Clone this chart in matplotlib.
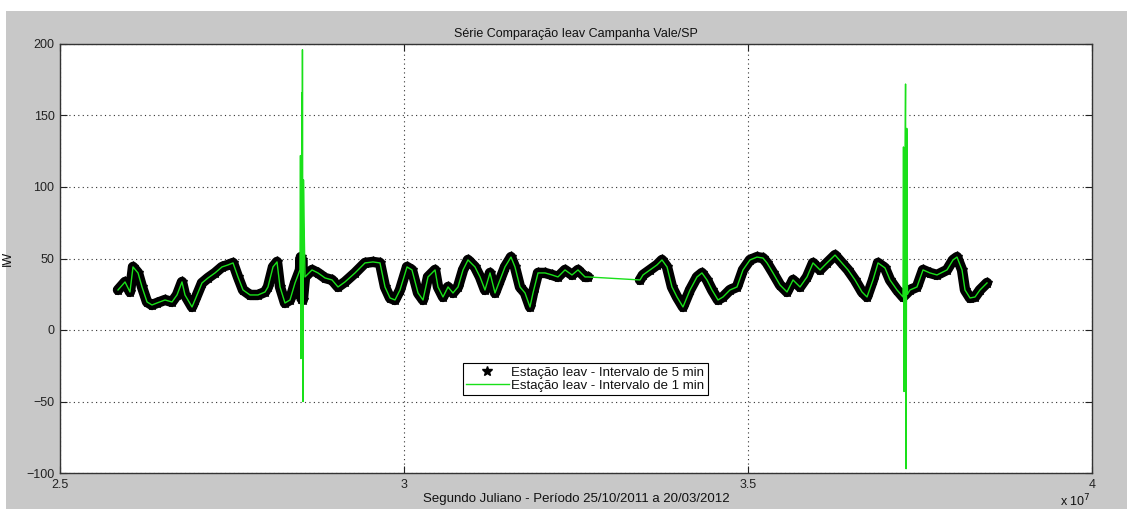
import numpy as np
import matplotlib
matplotlib.use("Agg")
import matplotlib.pyplot as plt
from matplotlib.patches import Rectangle
from matplotlib.lines import Line2D

plt.rcParams['font.family'] = ['Liberation Sans', 'DejaVu Sans']

# Julian seconds (in units of 1e7 s) and IW values, 5-minute sampling
t5 = [2.5843, 2.5945, 2.6017, 2.6061, 2.6134, 2.6192, 2.6265, 2.6337, 2.6410, 2.6526,
      2.6628, 2.6701, 2.6773, 2.6817, 2.6919, 2.6962, 2.7064, 2.7151, 2.7253, 2.7355,
      2.7442, 2.7515, 2.7587, 2.7660, 2.7762, 2.7878, 2.7980, 2.8023, 2.8096, 2.8154,
      2.8198, 2.8270, 2.8343, 2.8416, 2.8488, 2.8500, 2.8510, 2.8520, 2.8530, 2.8561,
      2.8663, 2.8750, 2.8852, 2.8954, 2.9041, 2.9142, 2.9288, 2.9433, 2.9549, 2.9651,
      2.9724, 2.9797, 2.9869, 2.9942, 3.0044, 3.0116, 3.0204, 3.0276, 3.0349, 3.0451,
      3.0494, 3.0567, 3.0640, 3.0712, 3.0785, 3.0858, 3.0930, 3.1032, 3.1105, 3.1177,
      3.1250, 3.1323, 3.1395, 3.1468, 3.1555, 3.1613, 3.1686, 3.1759, 3.1831, 3.1875,
      3.1948, 3.2050, 3.2151, 3.2238, 3.2340, 3.2442, 3.2529, 3.2631, 3.2675,
      3.3430, 3.3474, 3.3576, 3.3677, 3.3750, 3.3823, 3.3895, 3.3968, 3.4055, 3.4157,
      3.4259, 3.4331, 3.4404, 3.4477, 3.4564, 3.4637, 3.4738, 3.4840, 3.4927, 3.5029,
      3.5131, 3.5218, 3.5276, 3.5364, 3.5465, 3.5567, 3.5654, 3.5756, 3.5858, 3.5945,
      3.6047, 3.6148, 3.6265, 3.6366, 3.6454, 3.6555, 3.6657, 3.6730, 3.6817, 3.6890,
      3.6991, 3.7064, 3.7166, 3.7253, 3.7355, 3.7456, 3.7544, 3.7645, 3.7747, 3.7892,
      3.7980, 3.8038, 3.8111, 3.8154, 3.8227, 3.8300, 3.8372, 3.8474]
iw5 = [28.0, 33.6, 26.6, 44.1, 39.9, 30.1, 19.6, 17.5, 18.9, 21.0,
       19.6, 24.5, 33.6, 24.5, 16.1, 21.0, 32.9, 36.4, 39.9, 44.1,
       45.5, 46.9, 37.1, 28.0, 24.5, 24.5, 26.6, 30.1, 44.1, 47.6,
       30.1, 18.9, 21.0, 32.9, 42.0, 51.0, 22.0, 49.0, 21.0, 37.1,
       42.0, 39.9, 36.4, 35.0, 30.1, 33.6, 39.9, 46.9, 47.6, 46.9,
       30.1, 22.4, 21.0, 28.0, 44.1, 42.0, 25.9, 21.0, 37.1, 42.0,
       30.1, 23.1, 30.1, 25.9, 30.1, 42.0, 49.0, 44.1, 37.1, 28.0,
       39.9, 25.9, 35.0, 44.1, 51.0, 44.1, 30.1, 25.9, 16.1, 25.9,
       39.9, 39.9, 38.5, 37.1, 42.0, 38.5, 42.0, 37.1, 37.1,
       35.0, 38.5, 42.0, 45.5, 49.0, 44.1, 30.1, 23.1, 16.1, 28.0,
       37.1, 39.9, 35.0, 28.0, 21.0, 23.1, 28.0, 30.1, 42.0, 49.0,
       51.0, 50.3, 46.9, 39.9, 31.5, 26.6, 35.0, 30.1, 37.1, 46.9,
       42.0, 46.9, 52.4, 46.9, 42.0, 35.0, 26.6, 23.1, 35.0, 46.9,
       43.4, 35.0, 28.0, 23.1, 28.0, 30.1, 42.0, 39.9, 38.5, 42.0,
       49.0, 51.0, 42.0, 28.0, 22.4, 23.1, 28.0, 32.9]

# 1-minute spikes around the two disturbances
t_spk = [2.8495, 2.8502, 2.8517, 2.8524, 2.8532, 2.8539, 2.8546,
         3.7260, 3.7268, 3.7278, 3.7290, 3.7298, 3.7308, 3.7318]
iw_spk = [122.0, -20.0, 166.0, 196.0, -50.0, 105.0, 80.0,
          128.0, -43.0, 87.0, 172.0, -97.0, 141.0, 25.0]

title = 'Série Comparação Ieav Campanha Vale/SP'
xlabel = 'Segundo Juliano - Período 25/10/2011 a 20/03/2012'
ylabel = 'IW'
label5 = 'Estação Ieav - Intervalo de 5 min'
label1 = 'Estação Ieav - Intervalo de 1 min'
xticks = [2.5, 3.0, 3.5, 4.0]
xtick_labels = ['2.5', '3', '3.5', '4']
yticks = [-100, -50, 0, 50, 100, 150, 200]

t5 = np.array(t5) * 1e7
iw5 = np.array(iw5)
# the 1-minute record: 5-minute samples merged with the spike samples
t1 = np.concatenate([t5, np.array(t_spk) * 1e7])
iw1 = np.concatenate([iw5, iw_spk])
order = np.argsort(t1)
t1, iw1 = t1[order], iw1[order]

# break the 5-minute band where data are missing
gap = np.where(np.diff(t5) > 0.03e7)[0]
t5_band = np.insert(t5, gap + 1, np.nan)
iw5_band = np.insert(iw5, gap + 1, np.nan)

GREEN = '#19e019'
TXT = '#111111'
W, H = 1127, 509
fig = plt.figure(figsize=(W / 100, H / 100), dpi=100, facecolor='white')
fig.patches.append(Rectangle((6 / W, 0), 1, (H - 11) / H, transform=fig.transFigure,
                             facecolor='#c8c8c8', edgecolor='none', zorder=-10))

ax = fig.add_axes([60 / W, (H - 473) / H, 1032 / W, 429 / H])
ax.set_facecolor('white')

ax.plot(t5_band, iw5_band, color='black', lw=7.5, solid_capstyle='round', zorder=2)
ax.plot(t5, iw5, linestyle='none', marker='*', ms=8, color='black', zorder=3)
ax.plot(t1, iw1, color=GREEN, lw=1.0, zorder=4)

ax.set_xlim(2.5e7, 4.0e7)
ax.set_ylim(-100, 200)
ax.set_xticks([v * 1e7 for v in xticks])
ax.set_xticklabels(xtick_labels)
ax.set_yticks(yticks)

ax.grid(True, linestyle=(0, (1, 3)), color='#333333', lw=0.8)
ax.tick_params(direction='in', length=5, width=0.8, colors='#222222', labelsize=9,
               top=True, right=True, pad=4)
ax.tick_params(axis='x', pad=4)
for s in ax.spines.values():
    s.set_color('#333333')
    s.set_linewidth(1.0)

ax.set_title(title, fontsize=9, pad=5, color=TXT)
ax.set_xlabel(xlabel, fontsize=9.5, labelpad=2, color=TXT)
ax.set_ylabel(ylabel, fontsize=9, color=TXT)
ax.yaxis.set_label_coords((14 - 60) / 1032, 0.5)
fig.text(1060 / W, 1 - 501 / H, r'x 10$^{7}$', fontsize=9, color=TXT,
         ha='left', va='center')

handles = [Line2D([], [], linestyle='none', marker='*', ms=7, color='black'),
           Line2D([], [], color=GREEN, lw=1.0)]
leg = ax.legend(handles, [label5, label1], loc='upper left',
                bbox_to_anchor=((463 - 60) / 1032, (473 - 363) / 429),
                fontsize=9.5, frameon=True, fancybox=False, framealpha=1,
                edgecolor='black', borderpad=0.25, labelspacing=0.1,
                handlelength=3.2, handletextpad=0.2, borderaxespad=0)
leg.get_frame().set_linewidth(0.8)
for txt in leg.get_texts():
    txt.set_color(TXT)

fig.savefig('out.png', dpi=100)
